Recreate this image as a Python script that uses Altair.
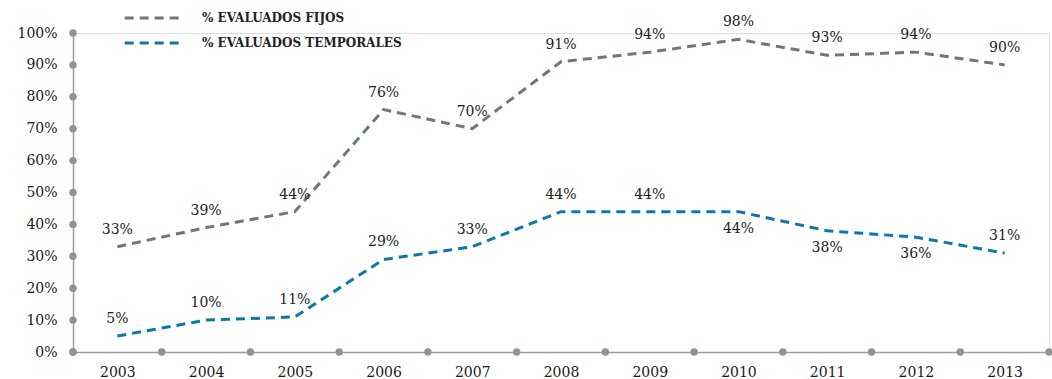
import altair as alt
import pandas as pd

years = list(range(2003, 2014))
fijos = [33, 39, 44, 76, 70, 91, 94, 98, 93, 94, 90]
temporales = [5, 10, 11, 29, 33, 44, 44, 44, 38, 36, 31]
series_names = ["% EVALUADOS FIJOS", "% EVALUADOS TEMPORALES"]
y_ticks = [0, 10, 20, 30, 40, 50, 60, 70, 80, 90, 100]
x_dots = [2002.5 + k for k in range(12)]
temporales_below = [2010, 2011, 2012]

GRAY = "#6c787c"
BLUE = "#0b77ab"
AXIS = "#9a9ea1"
DOT = "#8e9396"
FONT = "DejaVu Serif"

rows = []
for yr, f, t in zip(years, fijos, temporales):
    rows.append(dict(year=yr, value=f, series=series_names[0], label=f"{f}%", pos="above"))
    rows.append(dict(year=yr, value=t, series=series_names[1], label=f"{t}%",
                     pos="below" if yr in temporales_below else "above"))
df = pd.DataFrame(rows)

x_scale = alt.Scale(domain=[2002.5, 2013.5], nice=False, zero=False)
y_scale = alt.Scale(domain=[0, 100], nice=False)

x_axis = alt.Axis(values=years, format="d", title=None, grid=False, ticks=False,
                  domainColor=AXIS, domainWidth=1.5, labelFont=FONT, labelFontSize=14,
                  labelColor="#1a1a1a", labelPadding=13, labelOverlap=False)
y_axis = alt.Axis(values=y_ticks, labelExpr="datum.value + '%'", title=None, grid=False,
                  ticks=False, domainColor=AXIS, domainWidth=1.5, labelFont=FONT,
                  labelFontSize=14, labelColor="#1a1a1a", labelPadding=16, labelOverlap=False)

color = alt.Color(
    "series:N",
    scale=alt.Scale(domain=series_names, range=[GRAY, BLUE]),
    legend=alt.Legend(orient="none", legendX=71, legendY=-23, title=None,
                      symbolType="M-4.2,0H4.2", symbolSize=169, symbolStrokeWidth=3,
                      symbolDash=[9, 6], labelFont=FONT, labelFontWeight="bold",
                      labelFontSize=12, labelColor="#222222", labelOffset=42,
                      labelLimit=400, rowPadding=11, padding=0),
)

def X(field):
    return alt.X(field, scale=x_scale, axis=x_axis)

def Y(field):
    return alt.Y(field, scale=y_scale, axis=y_axis)

lines = alt.Chart(df).mark_line(strokeDash=[9, 6], strokeWidth=3).encode(
    x=X("year:Q"), y=Y("value:Q"), color=color,
)

text_base = alt.Chart(df).encode(x=X("year:Q"), y=Y("value:Q"), text="label:N")
labels_above = text_base.mark_text(font=FONT, fontSize=14, color="#222222", dy=-17,
                                   baseline="middle").transform_filter("datum.pos == 'above'")
labels_below = text_base.mark_text(font=FONT, fontSize=14, color="#222222", dy=17,
                                   baseline="middle").transform_filter("datum.pos == 'below'")

ydots = alt.Chart(pd.DataFrame({"tick": y_ticks, "x": [2002.5] * len(y_ticks)})).mark_circle(
    size=55, color=DOT, opacity=1).encode(x=X("x:Q"), y=Y("tick:Q"))
xdots = alt.Chart(pd.DataFrame({"x": x_dots, "y": [0] * len(x_dots)})).mark_circle(
    size=55, color=DOT, opacity=1).encode(x=X("x:Q"), y=Y("y:Q"))

chart = alt.layer(lines, ydots, xdots, labels_above, labels_below).properties(
    width=976, height=319,
    autosize=alt.AutoSizeParams(type="none"),
    padding={"left": 73, "top": 33, "right": 3, "bottom": 27},
).configure_view(strokeWidth=0).configure(background="white", font=FONT)

chart.save("out.html", embed_options={"renderer": "svg", "actions": False})
